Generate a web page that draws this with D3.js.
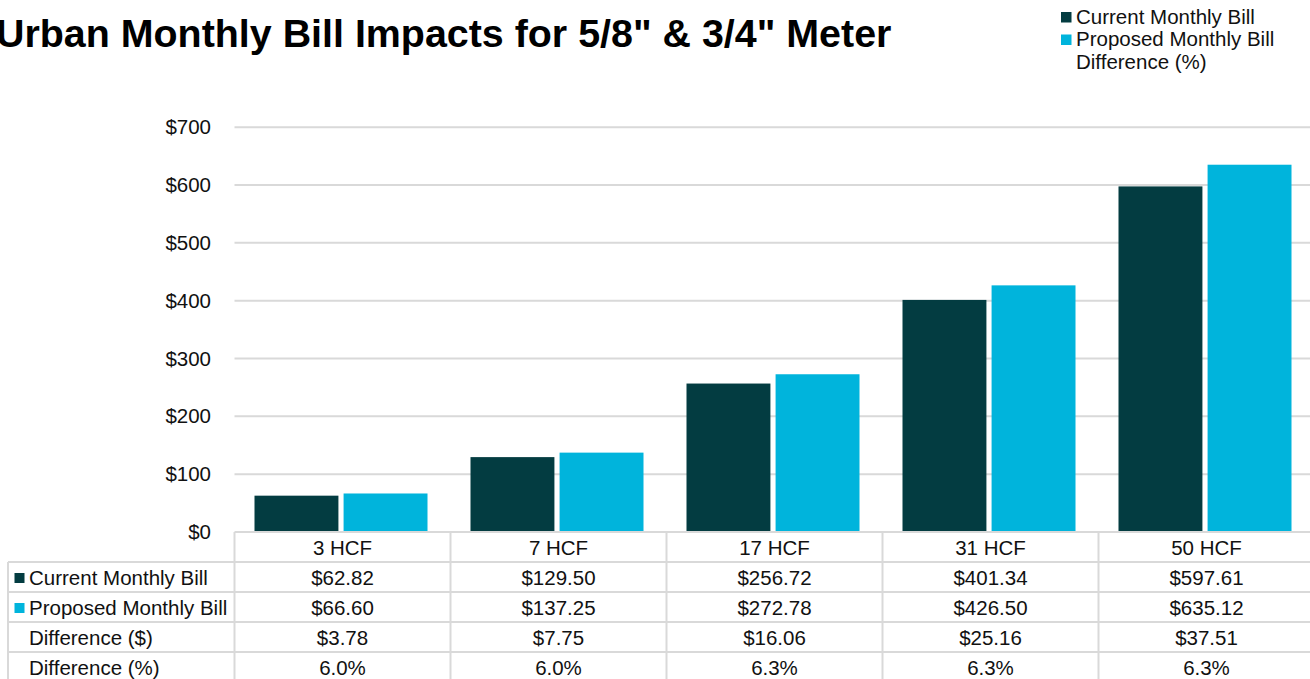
<!DOCTYPE html>
<html>
<head>
<meta charset="utf-8">
<script src="https://cdn.jsdelivr.net/npm/d3@7"></script>
<style>
  body { margin: 0; background: #fff; }
  svg { display: block; font-family: 'Liberation Sans', Arial, sans-serif; }
</style>
</head>
<body>
<svg></svg>
<script>
const categories = ['3 HCF', '7 HCF', '17 HCF', '31 HCF', '50 HCF']
const seriesNames = ['Current Monthly Bill', 'Proposed Monthly Bill']
const currentBill = [62.82, 129.50, 256.72, 401.34, 597.61]
const proposedBill = [66.60, 137.25, 272.78, 426.50, 635.12]
const diffDollars = ['$3.78', '$7.75', '$16.06', '$25.16', '$37.51']
const diffPercent = ['6.0%', '6.0%', '6.3%', '6.3%', '6.3%']
const yTicks = [0, 100, 200, 300, 400, 500, 600, 700]
const colors = ['#033c41', '#00b4dc']

const w = 1310
const h = 679
const plotLeft = 234.5
const plotRight = 1314.5
const plotTop = 127.2
const plotBottom = 532
const rowH = 30
const fs = '20.5px'
const textColor = '#111'

let svg = d3.select('svg').attr('width', w).attr('height', h)

// title
svg.append('text')
   .attr('x', -4)
   .attr('y', 47)
   .style('font-size', '39.4px')
   .style('font-weight', 'bold')
   .attr('fill', '#000')
   .text('Urban Monthly Bill Impacts for 5/8" & 3/4" Meter')

// legend
let legendItems = [
    {label: seriesNames[0], color: colors[0]},
    {label: seriesNames[1], color: colors[1]},
    {label: 'Difference (%)', color: null}
]
let legend = svg.append('g')
legendItems.forEach((item, i) => {
    let y = 23.5 + i * 22.5
    if (item.color) {
        legend.append('rect')
              .attr('x', 1061).attr('y', y - 11.5)
              .attr('width', 10.5).attr('height', 10.5)
              .attr('fill', item.color)
    }
    legend.append('text')
          .attr('x', 1076).attr('y', y)
          .style('font-size', fs)
          .attr('fill', textColor)
          .text(item.label)
})

let yScale = d3.scaleLinear().domain([0, 700]).range([plotBottom, plotTop])
let x0 = d3.scaleBand().domain(categories).range([plotLeft, plotRight]).padding(0)
let x1 = d3.scaleBand().domain(seriesNames).range([20, 193]).paddingInner(0.058)

// gridlines
svg.append('g')
   .selectAll('line')
   .data(yTicks.filter(d => d > 0))
   .enter()
   .append('line')
   .attr('x1', plotLeft).attr('x2', w)
   .attr('y1', d => yScale(d)).attr('y2', d => yScale(d))
   .attr('stroke', '#d9d9d9')
   .attr('stroke-width', 2)

// y axis labels
let yAxis = d3.axisLeft(yScale).tickValues(yTicks).tickFormat(d => '$' + d).tickSize(0).tickPadding(0)
let gy = svg.append('g')
            .attr('transform', 'translate(211, 0)')
            .call(yAxis)
gy.select('.domain').remove()
gy.selectAll('text')
  .style('font-size', fs)
  .style('font-family', "'Liberation Sans', Arial, sans-serif")
  .attr('fill', textColor)

// bars
let groups = svg.append('g')
                .selectAll('g')
                .data(categories)
                .enter()
                .append('g')
                .attr('transform', d => 'translate(' + x0(d) + ', 0)')

groups.selectAll('rect')
      .data((d, i) => [
          {s: seriesNames[0], v: currentBill[i], c: colors[0]},
          {s: seriesNames[1], v: proposedBill[i], c: colors[1]}
      ])
      .enter()
      .append('rect')
      .attr('x', d => x1(d.s))
      .attr('width', x1.bandwidth())
      .attr('y', d => yScale(d.v))
      .attr('height', d => plotBottom - yScale(d.v))
      .attr('fill', d => d.c)

// data table
let fmt = d3.format(',.2f')
let rows = [
    {label: seriesNames[0], color: colors[0], vals: currentBill.map(v => '$' + fmt(v))},
    {label: seriesNames[1], color: colors[1], vals: proposedBill.map(v => '$' + fmt(v))},
    {label: 'Difference ($)', color: null, vals: diffDollars},
    {label: 'Difference (%)', color: null, vals: diffPercent}
]
let table = svg.append('g')
let gridColor = '#d9d9d9'

// baseline of plot / top of table
table.append('line')
     .attr('x1', plotLeft).attr('x2', w)
     .attr('y1', plotBottom).attr('y2', plotBottom)
     .attr('stroke', gridColor).attr('stroke-width', 2)

// horizontal row lines
for (let r = 1; r <= 4; r++) {
    table.append('line')
         .attr('x1', 8).attr('x2', w)
         .attr('y1', plotBottom + r * rowH).attr('y2', plotBottom + r * rowH)
         .attr('stroke', gridColor).attr('stroke-width', 2)
}
// left border
table.append('line')
     .attr('x1', 8).attr('x2', 8)
     .attr('y1', plotBottom + rowH).attr('y2', h)
     .attr('stroke', gridColor).attr('stroke-width', 2)
// vertical category lines
categories.forEach(c => {
    table.append('line')
         .attr('x1', x0(c)).attr('x2', x0(c))
         .attr('y1', plotBottom).attr('y2', h)
         .attr('stroke', gridColor).attr('stroke-width', 2)
})

// header
table.selectAll('.hdr')
     .data(categories)
     .enter()
     .append('text')
     .attr('class', 'hdr')
     .attr('x', d => x0(d) + x0.bandwidth() / 2)
     .attr('y', plotBottom + 23)
     .attr('text-anchor', 'middle')
     .style('font-size', fs)
     .attr('fill', textColor)
     .text(d => d)

rows.forEach((row, r) => {
    let yText = plotBottom + (r + 1) * rowH + 23
    if (row.color) {
        table.append('rect')
             .attr('x', 14.5).attr('y', yText - 12)
             .attr('width', 10).attr('height', 10)
             .attr('fill', row.color)
    }
    table.append('text')
         .attr('x', 29).attr('y', yText)
         .style('font-size', fs)
         .attr('fill', textColor)
         .text(row.label)
    row.vals.forEach((v, i) => {
        table.append('text')
             .attr('x', x0(categories[i]) + x0.bandwidth() / 2)
             .attr('y', yText)
             .attr('text-anchor', 'middle')
             .style('font-size', fs)
             .attr('fill', textColor)
             .text(v)
    })
})
</script>
</body>
</html>
